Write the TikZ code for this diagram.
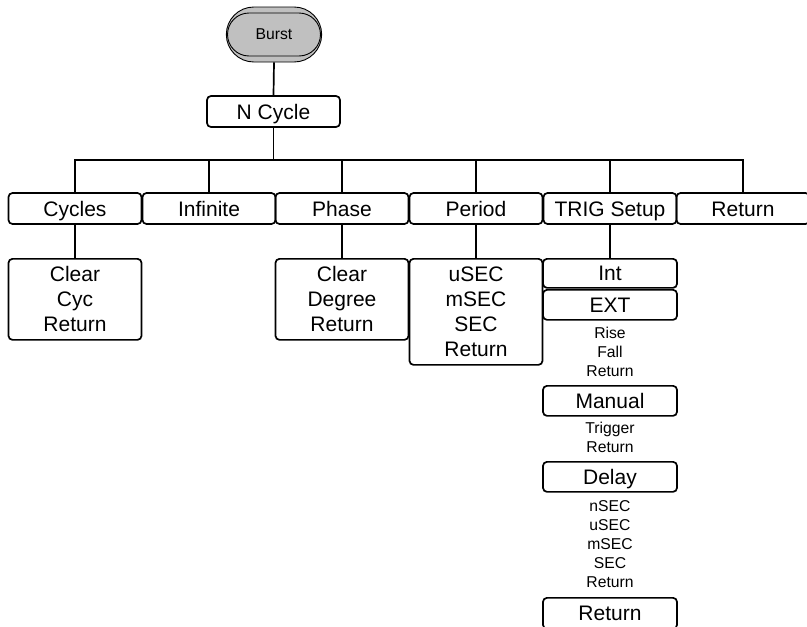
\documentclass[tikz,border=0pt]{standalone}
\usepackage{fontspec}
\setmainfont{Liberation Sans}
\usetikzlibrary{shapes.misc}
\definecolor{burstgray}{RGB}{192,192,192}
\tikzset{
  menubox/.style={draw, line width=1.7pt, rounded corners=4pt, minimum width=133pt,
    minimum height=31pt, inner sep=0pt, align=center, font=\fontsize{21}{25}\selectfont},
  onebox/.style={menubox, text height=17pt, text depth=2pt},
  subbox/.style={menubox, anchor=north},
  onesub/.style={onebox, anchor=north},
  smalltext/.style={inner sep=0pt, align=center, font=\fontsize{15.7}{19}\selectfont},
  link/.style={line width=1.7pt},
}
\begin{document}
\begin{tikzpicture}[x=1pt,y=-1pt]
\useasboundingbox (0,0) rectangle (807,627);
% Burst
\node[rounded rectangle, draw, line width=0.9pt, fill=burstgray, minimum width=102pt, minimum height=55pt] (burstout) at (274,34.5) {};
\node[rounded rectangle, draw, line width=0.9pt, fill=burstgray, minimum width=93pt, minimum height=43pt, inner sep=0pt, font=\fontsize{15.7}{19}\selectfont] (burst) at (274,34.5) {Burst};
% N Cycle
\node[onebox] (ncycle) at (273.5,111.5) {N Cycle};
\coordinate (bus) at (273.5,160);
% top row
\node[onebox] (cycles) at (75,208.5) {Cycles};
\node[onebox] (infinite) at (209,208.5) {Infinite};
\node[onebox] (phase) at (342,208.5) {Phase};
\node[onebox] (period) at (476,208.5) {Period};
\node[onebox] (trig) at (610,208.5) {TRIG Setup};
\node[onebox] (ret) at (743,208.5) {Return};
% second row
\node[subbox, minimum height=81pt] (cycsub) at (75,258) {Clear\\Cyc\\Return};
\node[subbox, minimum height=81pt] (phasesub) at (342,258) {Clear\\Degree\\Return};
\node[subbox, minimum height=106pt] (periodsub) at (476,258) {uSEC\\mSEC\\SEC\\Return};
% trig column
\node[onesub, minimum width=134pt, minimum height=29pt, text height=16pt, text depth=2pt] (int) at (610,258) {Int};
\node[onesub, minimum width=134pt, minimum height=30pt] (ext) at (610,289) {EXT};
\node[smalltext] (extopts) at (610,351.5) {Rise\\Fall\\Return};
\node[onesub, minimum width=134pt, minimum height=30pt] (manual) at (610,385) {Manual};
\node[smalltext] (manopts) at (610,437.5) {Trigger\\Return};
\node[onesub, minimum width=134pt, minimum height=30pt] (delay) at (610,461) {Delay};
\node[smalltext] (delopts) at (610,544) {nSEC\\uSEC\\mSEC\\SEC\\Return};
\node[onesub, minimum width=134pt, minimum height=31pt] (trigret) at (610,597) {Return};
% connectors
\draw[link] (burstout.south) -- (ncycle.north);
\draw[link] (ncycle.south) -- (bus);
\foreach \n in {cycles,infinite,phase,period,trig,ret}
  \draw[link] (bus) -| (\n.north);
\draw[link] (cycles.south) -- (cycsub.north);
\draw[link] (phase.south) -- (phasesub.north);
\draw[link] (period.south) -- (periodsub.north);
\draw[link] (trig.south) -- (int.north);
\end{tikzpicture}
\end{document}
